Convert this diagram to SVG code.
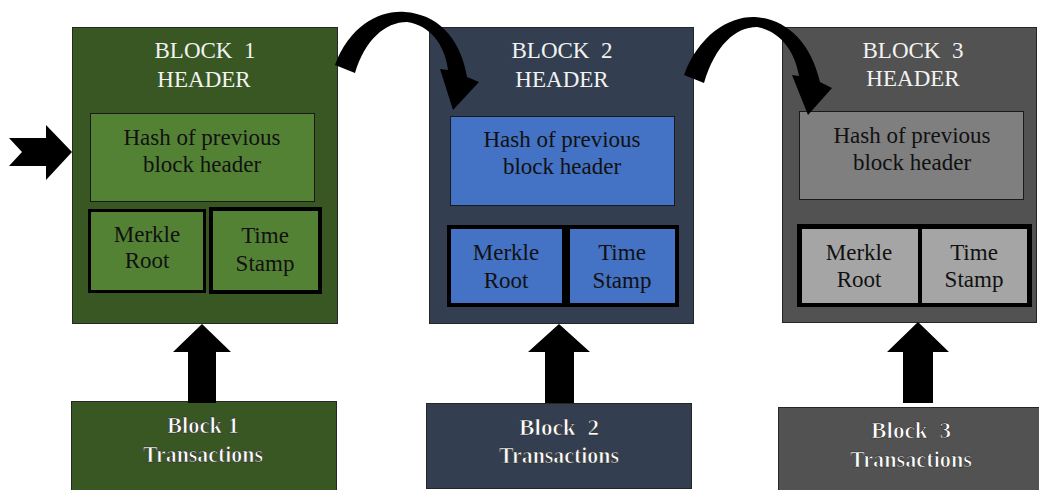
<svg xmlns="http://www.w3.org/2000/svg" width="1039" height="490" viewBox="0 0 1039 490">
<style>
.outer{stroke:#262626;stroke-width:1}
.thin{stroke:#1a1a1a;stroke-width:1}
.title{font-family:"Liberation Serif",serif;font-size:23px;fill:#F2F2F2;text-anchor:middle}
.lbl{font-family:"Liberation Serif",serif;font-size:23px;fill:#111;text-anchor:middle}
.tx{font-family:"Liberation Serif",serif;font-weight:bold;font-size:23px;fill:#fff;stroke:#222;stroke-width:0.6;text-anchor:middle}
.arr{fill:#000}
</style>
<rect width="1039" height="490" fill="#fff"/>
<g id="block1-header">
<rect class="outer" x="72.5" y="27.5" width="265" height="296" fill="#385723"/>
<text class="title" x="205" y="58">BLOCK&#160; 1</text>
<text class="title" x="204" y="87">HEADER</text>
<rect class="thin" x="90.5" y="113.5" width="224" height="88" fill="#548235"/>
<text class="lbl" x="202" y="145">Hash of previous</text>
<text class="lbl" x="202" y="172">block header</text>
<rect x="89.5" y="210.5" width="115" height="81" fill="#548235" stroke="#000" stroke-width="3"/>
<text class="lbl" x="147" y="242">Merkle</text>
<text class="lbl" x="147" y="268">Root</text>
<rect x="211" y="209" width="109" height="83" fill="#548235" stroke="#000" stroke-width="4"/>
<text class="lbl" x="265" y="243">Time</text>
<text class="lbl" x="265" y="271">Stamp</text>
</g>
<g id="block2-header">
<rect class="outer" x="429.5" y="27.5" width="264" height="296" fill="#333F50"/>
<text class="title" x="562" y="58">BLOCK&#160; 2</text>
<text class="title" x="562" y="87">HEADER</text>
<rect class="thin" x="450.5" y="116.5" width="224" height="89" fill="#4472C4"/>
<text class="lbl" x="562" y="147">Hash of previous</text>
<text class="lbl" x="562" y="174">block header</text>
<rect x="447" y="225" width="232" height="82" fill="#000"/>
<rect x="451" y="229" width="111" height="74" fill="#4472C4"/>
<rect x="570" y="229" width="105" height="74" fill="#4472C4"/>
<text class="lbl" x="506" y="260">Merkle</text>
<text class="lbl" x="506" y="288">Root</text>
<text class="lbl" x="622" y="260">Time</text>
<text class="lbl" x="622" y="288">Stamp</text>
</g>
<g id="block3-header">
<rect class="outer" x="782.5" y="27.5" width="254" height="295" fill="#525252"/>
<text class="title" x="913" y="58">BLOCK&#160; 3</text>
<text class="title" x="913" y="86">HEADER</text>
<rect class="thin" x="799.5" y="111.5" width="224" height="88" fill="#7F7F7F"/>
<text class="lbl" x="912" y="143">Hash of previous</text>
<text class="lbl" x="912" y="170">block header</text>
<rect x="797" y="224" width="235" height="83" fill="#000"/>
<rect x="802" y="229" width="116" height="74" fill="#A5A5A5"/>
<rect x="922" y="229" width="105" height="74" fill="#A5A5A5"/>
<text class="lbl" x="859" y="260">Merkle</text>
<text class="lbl" x="859" y="287">Root</text>
<text class="lbl" x="974" y="260">Time</text>
<text class="lbl" x="974" y="287">Stamp</text>
</g>
<g id="block1-tx">
<rect class="outer" x="71.5" y="401.5" width="265" height="95" fill="#385723"/>
<text class="tx" x="203" y="433" textLength="72" lengthAdjust="spacingAndGlyphs">Block 1</text>
<text class="tx" x="203" y="462" textLength="120" lengthAdjust="spacingAndGlyphs">Transactions</text>
</g>
<g id="block2-tx">
<rect class="outer" x="426.5" y="403.5" width="265" height="85" fill="#333F50"/>
<text class="tx" x="559" y="435" textLength="80" lengthAdjust="spacingAndGlyphs">Block&#160; 2</text>
<text class="tx" x="559" y="463" textLength="120" lengthAdjust="spacingAndGlyphs">Transactions</text>
</g>
<g id="block3-tx">
<rect class="outer" x="778.5" y="407.5" width="270" height="90" fill="#525252"/>
<text class="tx" x="911" y="438" textLength="80" lengthAdjust="spacingAndGlyphs">Block&#160; 3</text>
<text class="tx" x="911" y="467" textLength="122" lengthAdjust="spacingAndGlyphs">Transactions</text>
</g>
<g id="connectors">
<polygon class="arr" points="9,138 46,138 46,125 72,152 46,180 46,166 9,166 22,152"/>
<path class="arr" d="M335 65 C350 25 380 10 405 12 C435 14 460 35 467 77 L479 82 L453 110 L440 69 L448 70 C445 45 430 25 407 22 C385 22 365 40 355 73 Z"/>
<path class="arr" d="M684 75 C699 34 730 16 755 17 C785 19 810 40 820 82 L832 88 L808 115 L792 75 L799 76 C795 51 780 31 757 27 C735 27 715 46 704 83 Z"/>
<polygon class="arr" points="202,324 231,352 216,352 216,403 188,403 188,352 173,352"/>
<polygon class="arr" points="559,324 590,352 574,352 574,403 545,403 545,352 528,352"/>
<polygon class="arr" points="918,322 949,352 933,352 933,403 903,403 903,352 887,352"/>
</g>
</svg>
